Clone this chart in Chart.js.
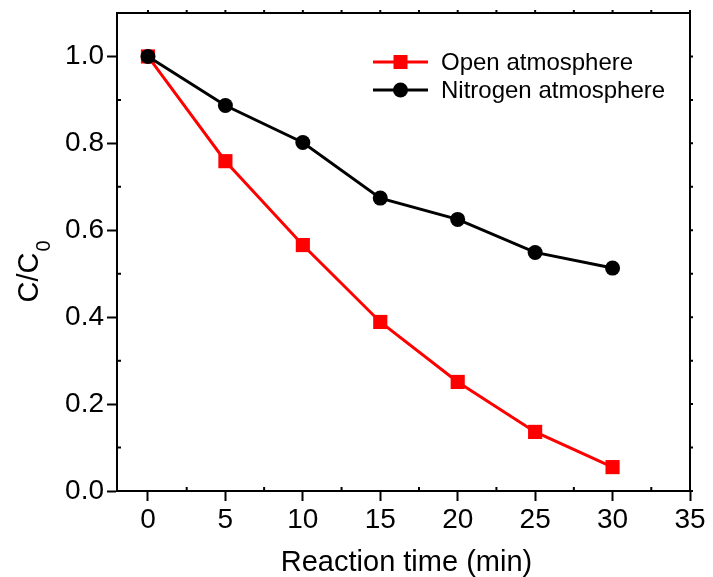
<!DOCTYPE html>
<html>
<head>
<meta charset="utf-8">
<script src="https://cdn.jsdelivr.net/npm/chart.js@4.4.1/dist/chart.umd.min.js"></script>
<style>
  html, body { margin: 0; padding: 0; background: #fff; }
  #wrap { width: 713px; height: 577px; }
</style>
</head>
<body>
<div id="wrap"><canvas id="c" width="713" height="577"></canvas></div>
<script>
const times = [0, 5, 10, 15, 20, 25, 30];
const openAir = [1.0, 0.759, 0.566, 0.389, 0.251, 0.136, 0.055];
const nitrogen = [1.0, 0.887, 0.802, 0.674, 0.625, 0.549, 0.513];
const xTicks = [0, 5, 10, 15, 20, 25, 30, 35];
const yTicks = [0.0, 0.2, 0.4, 0.6, 0.8, 1.0];
const xMinor = [2.5, 7.5, 12.5, 17.5, 22.5, 27.5, 32.5];
const yMinor = [0.1, 0.3, 0.5, 0.7, 0.9];
const seriesNames = ["Open atmosphere", "Nitrogen atmosphere"];

const FONT = "'Liberation Sans', Arial, sans-serif";

// frame, minor ticks, axis titles and legend
const decor = {
  id: "decor",
  afterDraw(chart) {
    const { ctx, chartArea: a, scales: { x, y } } = chart;
    ctx.save();
    ctx.strokeStyle = "#000";
    ctx.lineWidth = 2;
    ctx.beginPath();
    ctx.moveTo(a.left, a.top);
    ctx.lineTo(a.right, a.top);
    ctx.lineTo(a.right, a.bottom);
    ctx.stroke();

    ctx.beginPath();
    xMinor.forEach(v => {
      const px = x.getPixelForValue(v);
      ctx.moveTo(px, a.bottom); ctx.lineTo(px, a.bottom - 4);
    });
    yMinor.forEach(v => {
      const py = y.getPixelForValue(v);
      ctx.moveTo(a.left, py); ctx.lineTo(a.left + 4, py);
    });
    xTicks.concat(xMinor).forEach(v => {
      const px = x.getPixelForValue(v);
      ctx.moveTo(px, a.top); ctx.lineTo(px, a.top - 3);
    });
    yTicks.concat(yMinor).forEach(v => {
      const py = y.getPixelForValue(v);
      ctx.moveTo(a.right, py); ctx.lineTo(a.right + 3, py);
    });
    ctx.stroke();

    // axis titles
    ctx.fillStyle = "#000";
    ctx.font = "29px " + FONT;
    ctx.textAlign = "center";
    ctx.textBaseline = "alphabetic";
    ctx.fillText("Reaction time (min)", (a.left + a.right) / 2 + 3, 571);

    ctx.save();
    ctx.translate(38, (a.top + a.bottom) / 2 + 20);
    ctx.rotate(-Math.PI / 2);
    ctx.textAlign = "left";
    const main = "C/C";
    ctx.font = "29px " + FONT;
    const w = ctx.measureText(main).width;
    ctx.font = "20px " + FONT;
    const ws = ctx.measureText("0").width;
    const start = -(w + ws) / 2;
    ctx.font = "29px " + FONT;
    ctx.fillText(main, start, 0);
    ctx.font = "20px " + FONT;
    ctx.fillText("0", start + w + 1, 12);
    ctx.restore();

    // legend
    const ds = chart.data.datasets;
    const rows = [a.top + 49, a.top + 77];
    ds.forEach((d, i) => {
      const ly = rows[i];
      const x0 = 373, x1 = 428;
      ctx.strokeStyle = d.borderColor;
      ctx.lineWidth = 3;
      ctx.beginPath();
      ctx.moveTo(x0, ly); ctx.lineTo(x1, ly);
      ctx.stroke();
      ctx.fillStyle = d.pointBackgroundColor;
      if (d.pointStyle === "rect") {
        ctx.fillRect((x0 + x1) / 2 - 7, ly - 7, 14, 14);
      } else {
        ctx.beginPath();
        ctx.arc((x0 + x1) / 2, ly, 7.5, 0, Math.PI * 2);
        ctx.fill();
      }
      ctx.fillStyle = "#000";
      ctx.font = "24px " + FONT;
      ctx.textAlign = "left";
      ctx.textBaseline = "middle";
      ctx.fillText(d.label, 441, ly + 1);
    });
    ctx.restore();
  }
};

new Chart(document.getElementById("c"), {
  type: "line",
  data: {
    datasets: [
      {
        label: seriesNames[0],
        data: times.map((t, i) => ({ x: t, y: openAir[i] })),
        borderColor: "#ff0000",
        backgroundColor: "#ff0000",
        pointBackgroundColor: "#ff0000",
        pointBorderWidth: 0,
        pointStyle: "rect",
        pointRadius: 10,
        borderWidth: 3,
        tension: 0,
        order: 1
      },
      {
        label: seriesNames[1],
        data: times.map((t, i) => ({ x: t, y: nitrogen[i] })),
        borderColor: "#000000",
        backgroundColor: "#000000",
        pointBackgroundColor: "#000000",
        pointBorderWidth: 0,
        pointStyle: "circle",
        pointRadius: 7.5,
        borderWidth: 3,
        tension: 0,
        order: 0
      }
    ]
  },
  options: {
    responsive: false,
    animation: false,
    events: [],
    layout: { padding: { left: 0, right: 23, top: 13, bottom: 0 } },
    plugins: { legend: { display: false }, tooltip: { enabled: false } },
    scales: {
      x: {
        type: "linear",
        min: -2,
        max: 35,
        afterBuildTicks: s => { s.ticks = xTicks.map(v => ({ value: v })); },
        afterFit: s => { s.height = 86; s.paddingLeft = 0; s.paddingRight = 0; },
        ticks: {
          color: "#000",
          font: { family: FONT, size: 28 },
          padding: 2,
          maxRotation: 0,
          autoSkip: false
        },
        grid: { drawOnChartArea: false, drawTicks: true, tickLength: 10, tickWidth: 2, color: "#000" },
        border: { color: "#000", width: 2 }
      },
      y: {
        type: "linear",
        min: 0,
        max: 1.1,
        afterBuildTicks: s => { s.ticks = yTicks.map(v => ({ value: v })); },
        afterFit: s => { s.width = 117; s.paddingTop = 0; s.paddingBottom = 0; },
        ticks: {
          color: "#000",
          font: { family: FONT, size: 28 },
          padding: 3,
          autoSkip: false,
          callback: v => v.toFixed(1)
        },
        grid: { drawOnChartArea: false, drawTicks: true, tickLength: 10, tickWidth: 2, color: "#000" },
        border: { color: "#000", width: 2 }
      }
    }
  },
  plugins: [decor]
});
</script>
</body>
</html>
